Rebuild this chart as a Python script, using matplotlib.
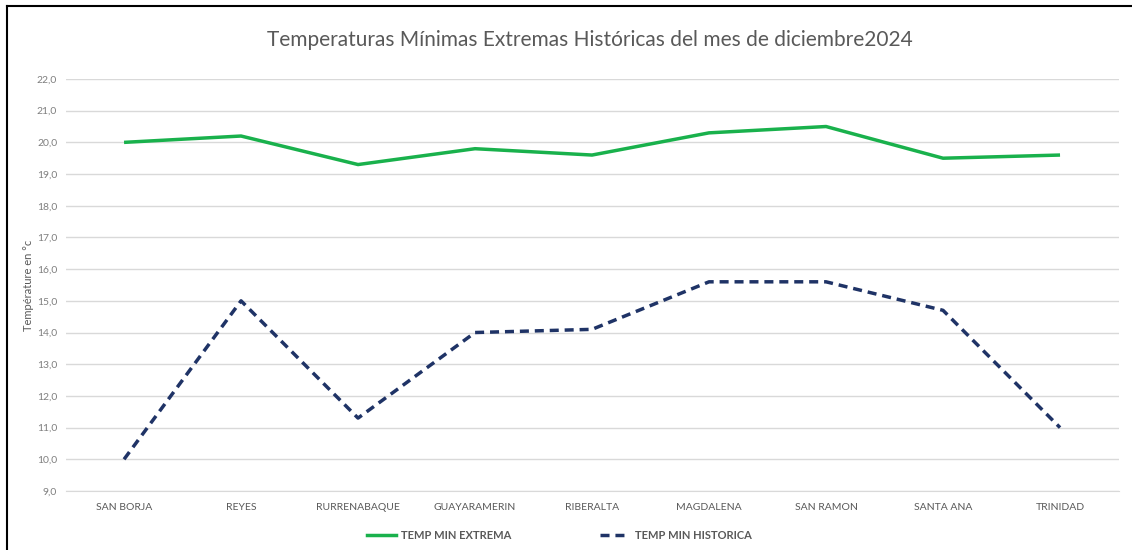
import numpy as np
import matplotlib.pyplot as plt
from matplotlib.lines import Line2D

plt.rcParams['font.family'] = ['Lato', 'DejaVu Sans']

estaciones = ["SAN BORJA", "REYES", "RURRENABAQUE", "GUAYARAMERIN", "RIBERALTA",
              "MAGDALENA", "SAN RAMON", "SANTA ANA", "TRINIDAD"]
temp_min_extrema = [20.0, 20.2, 19.3, 19.8, 19.6, 20.3, 20.5, 19.5, 19.6]
temp_min_historica = [10.0, 15.0, 11.3, 14.0, 14.1, 15.6, 15.6, 14.7, 11.0]
y_ticks = np.arange(9, 23, 1)

green = '#19b14c'
navy = '#1f3366'
txt = '#595959'
dash = (0, (2.6, 1.7))

fig = plt.figure(figsize=(11.32, 5.5), dpi=100)
ax = fig.add_axes([0.0579, 0.1073, 0.9302, 0.7491])

x = np.arange(len(estaciones))
ax.plot(x, temp_min_extrema, color=green, lw=2.5, solid_capstyle='butt')
ax.plot(x, temp_min_historica, color=navy, lw=2.5, ls=dash)

ax.set_xlim(-0.5, len(estaciones) - 0.5)
ax.set_ylim(9, 22)
ax.set_yticks(y_ticks)
ax.set_yticklabels([f"{v:.1f}".replace('.', ',') for v in y_ticks], fontsize=7.5, color='#7f7f7f')
ax.set_xticks(x)
ax.set_xticklabels(estaciones, fontsize=7.5, color=txt)
ax.tick_params(length=0, axis='y', pad=6)
ax.tick_params(length=0, axis='x', pad=9)
ax.grid(axis='y', color='#d9d9d9', lw=1)
ax.set_axisbelow(True)
for s in ['top', 'right', 'left']:
    ax.spines[s].set_visible(False)
ax.spines['bottom'].set_color('#d9d9d9')

ax.set_ylabel("Température en °c", fontsize=8, color=txt)
ax.yaxis.set_label_coords(-0.030, 0.5)
fig.text(0.521, 0.928, "Temperaturas Mínimas Extremas Históricas del mes de diciembre2024",
         ha='center', va='center', fontsize=15, color=txt)

handles = [Line2D([], [], color=green, lw=2.5),
           Line2D([], [], color=navy, lw=2.5, ls=dash)]
leg = fig.legend(handles, ["TEMP MIN EXTREMA", "TEMP MIN HISTORICA"], loc='center',
                 bbox_to_anchor=(0.494, 0.027), ncol=2, frameon=False,
                 handlelength=2.6, handletextpad=0.5, columnspacing=8,
                 prop={'weight': 'bold', 'size': 8})
for t in leg.get_texts():
    t.set_color(txt)

# marco del gráfico
fig.add_artist(Line2D([0.006, 0.006], [0, 0.99], color='black', lw=1.5, transform=fig.transFigure))
fig.add_artist(Line2D([0.006, 1], [0.99, 0.99], color='black', lw=1.5, transform=fig.transFigure))

fig.savefig('out.png', dpi=100)
